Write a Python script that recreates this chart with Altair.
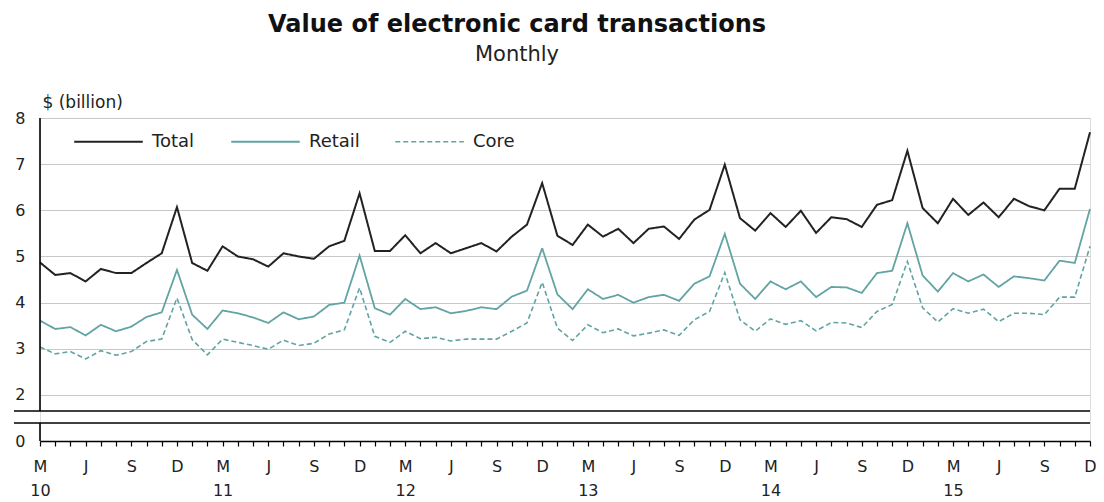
import json
import altair as alt
import pandas as pd

# ---------------- data (Mar 2010 .. Dec 2015, monthly) ----------------
series_names = ["Total", "Retail", "Core"]

total = [4.87, 4.60, 4.64, 4.46, 4.73, 4.64, 4.64, 4.86, 5.07, 6.07,
         4.86, 4.69, 5.22, 5.00, 4.94, 4.78, 5.07, 5.00, 4.95, 5.22,
         5.34, 6.37, 5.12, 5.12, 5.46, 5.07, 5.29, 5.07, 5.18, 5.29,
         5.11, 5.43, 5.69, 6.59, 5.45, 5.25, 5.69, 5.43, 5.60, 5.29,
         5.60, 5.65, 5.38, 5.80, 6.01, 6.99, 5.83, 5.56, 5.94, 5.64,
         5.99, 5.51, 5.85, 5.81, 5.64, 6.12, 6.22, 7.29, 6.05, 5.72,
         6.25, 5.90, 6.17, 5.85, 6.25, 6.09, 6.00, 6.47, 6.47, 7.69]

retail = [3.61, 3.43, 3.47, 3.29, 3.52, 3.38, 3.48, 3.69, 3.79, 4.71,
          3.74, 3.43, 3.83, 3.77, 3.68, 3.56, 3.79, 3.64, 3.70, 3.95,
          4.00, 5.02, 3.88, 3.74, 4.08, 3.86, 3.90, 3.77, 3.82, 3.90,
          3.86, 4.13, 4.26, 5.18, 4.18, 3.86, 4.29, 4.08, 4.17, 4.00,
          4.12, 4.17, 4.04, 4.41, 4.57, 5.49, 4.41, 4.08, 4.46, 4.29,
          4.46, 4.12, 4.34, 4.33, 4.21, 4.64, 4.69, 5.72, 4.59, 4.24,
          4.64, 4.46, 4.61, 4.34, 4.57, 4.53, 4.48, 4.91, 4.86, 6.03]

core = [3.04, 2.89, 2.94, 2.78, 2.96, 2.86, 2.94, 3.16, 3.21, 4.10,
        3.20, 2.87, 3.21, 3.14, 3.07, 2.99, 3.19, 3.07, 3.12, 3.32,
        3.41, 4.32, 3.27, 3.14, 3.38, 3.22, 3.25, 3.17, 3.21, 3.21,
        3.21, 3.38, 3.56, 4.44, 3.45, 3.18, 3.52, 3.35, 3.43, 3.28,
        3.34, 3.41, 3.29, 3.63, 3.81, 4.65, 3.63, 3.38, 3.65, 3.53,
        3.61, 3.39, 3.57, 3.56, 3.46, 3.81, 3.96, 4.89, 3.89, 3.58,
        3.87, 3.77, 3.86, 3.59, 3.77, 3.77, 3.74, 4.12, 4.12, 5.22]

month_letters = ["M", "J", "S", "D"]          # every third month from March
year_labels = ["10", "11", "12", "13", "14", "15"]
y_ticks = [0, 2, 3, 4, 5, 6, 7, 8]

# ---------------- layout ----------------
W, H = 1050, 323
BREAK_TOP, BREAK_BOT = 293, 305
FONT = "DejaVu Sans"
TEAL = "#62a3a3"

rows = []
for name, vals in zip(series_names, [total, retail, core]):
    for i, v in enumerate(vals):
        rows.append({"idx": i, "series": name, "value": v})
df = pd.DataFrame(rows)

n = len(total)
label_expr = (
    "datum.value % 3 != 0 ? '' : "
    f"(datum.value % 12 == 0 ? [{json.dumps(month_letters)}[0], "
    f"{json.dumps(year_labels)}[floor(datum.value / 12)]] : "
    f"{json.dumps(month_letters)}[(datum.value % 12) / 3])"
)

x_enc = alt.X(
    "idx:Q",
    scale=alt.Scale(domain=[0, n - 1], nice=False, zero=False),
    axis=alt.Axis(
        values=list(range(n)), labelExpr=label_expr, title=None, grid=False,
        domainColor="#000000", domainWidth=1.5, tickColor="#000000",
        tickSize=5, tickWidth=1.2, labelOverlap=False, labelFlush=False,
        labelFont=FONT, labelFontSize=16, labelColor="#222222",
        labelPadding=12, labelLineHeight=24, labelBaseline="top",
    ),
)

y_enc = alt.Y(
    "value:Q",
    scale=alt.Scale(domain=[0, 1.653, 8], range=[H, BREAK_TOP, 0],
                    nice=False, zero=False),
    axis=alt.Axis(
        values=y_ticks, title="$ (billion)", titleAngle=0, titleAlign="left",
        titleX=2, titleY=-11, titleBaseline="alphabetic", titleFont=FONT,
        titleFontSize=17, titleFontWeight="normal", titleColor="#222222",
        domain=False, ticks=False, grid=True, gridColor="#c8c8c8",
        gridWidth=1.2, labelFont=FONT, labelFontSize=16, labelColor="#222222",
        labelPadding=15,
    ),
)

legend = alt.Legend(
    orient="none", legendX=33, legendY=-12, direction="horizontal",
    title=None, symbolType="stroke", symbolSize=4700,
    symbolStrokeWidth=1.6, labelFont=FONT, labelFontSize=18,
    labelColor="#222222", labelOffset=8, columnPadding=32,
    padding=0,
)

lines = alt.Chart(df).mark_line().encode(
    x=x_enc,
    y=y_enc,
    color=alt.Color(
        "series:N",
        scale=alt.Scale(domain=series_names,
                        range=["#222222", TEAL, TEAL]),
        legend=legend,
    ),
    strokeDash=alt.StrokeDash(
        "series:N",
        scale=alt.Scale(domain=series_names,
                        range=[[1, 0], [1, 0], [5, 3]]),
        legend=legend,
    ),
    strokeWidth=alt.StrokeWidth(
        "series:N",
        scale=alt.Scale(domain=series_names, range=[2.0, 1.6, 1.6]),
        legend=None,
    ),
    order=alt.Order("series:N"),
)

deco = alt.Chart(pd.DataFrame({"k": [0]}))
axis_top = deco.mark_rule(color="#000000", strokeWidth=1.6).encode(
    x=alt.value(0), y=alt.value(0), y2=alt.value(BREAK_TOP))
axis_bot = deco.mark_rule(color="#000000", strokeWidth=1.6).encode(
    x=alt.value(0), y=alt.value(BREAK_BOT), y2=alt.value(H))
break1 = deco.mark_rule(color="#000000", strokeWidth=1.4).encode(
    x=alt.value(-26), x2=alt.value(W), y=alt.value(BREAK_TOP))
break2 = deco.mark_rule(color="#000000", strokeWidth=1.4).encode(
    x=alt.value(-26), x2=alt.value(W), y=alt.value(BREAK_BOT))

chart = alt.layer(lines, axis_top, axis_bot, break1, break2).properties(
    width=W, height=H,
    title=alt.TitleParams(
        text="Value of electronic card transactions", subtitle="Monthly",
        anchor="middle", frame="group", dx=-48, font=FONT, fontSize=24,
        fontWeight="bold", color="#111111", subtitleFont=FONT,
        subtitleFontSize=21, subtitleColor="#222222", subtitlePadding=7,
        offset=28,
    ),
    autosize=alt.AutoSizeParams(type="none"),
    padding={"left": 32, "top": 110, "right": 6, "bottom": 57},
).configure_view(stroke=None).configure(background="white")

chart.save("out.html", embed_options={"renderer": "svg", "actions": False})
